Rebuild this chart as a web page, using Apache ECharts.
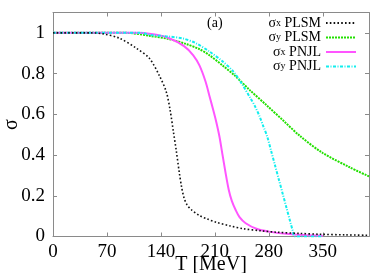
<!DOCTYPE html>
<html>
<head>
<meta charset="utf-8">
<script src="https://cdn.jsdelivr.net/npm/echarts@6/dist/echarts.min.js"></script>
<style>
html,body{margin:0;padding:0;background:#fff;}
#c{width:389px;height:273px;}
</style>
</head>
<body>
<div id="c"></div>
<script>
// ---- data ----
var xTicks = [0, 70, 140, 210, 280, 350];
var yTicks = [0, 0.2, 0.4, 0.6, 0.8, 1];
var yTickLabels = ['0', '0.2', '0.4', '0.6', '0.8', '1'];

var seriesNames = ['sx PLSM', 'sy PLSM', 'sx PNJL', 'sy PNJL'];

var tSxPLSM = [0, 50, 65, 86, 108, 125, 138, 147, 152, 156, 160, 164, 167, 170, 174, 180, 190, 200, 212, 230, 247, 270, 290, 320, 346, 380, 410];
var vSxPLSM = [1, 1, 0.995, 0.974, 0.925, 0.875, 0.79, 0.71, 0.62, 0.52, 0.42, 0.31, 0.24, 0.19, 0.155, 0.13, 0.103, 0.086, 0.07, 0.052, 0.038, 0.028, 0.021, 0.015, 0.011, 0.008, 0.006];

var tSyPLSM = [0, 95, 126, 150, 173, 190, 203, 220, 236, 255, 277, 300, 320, 350, 385, 410];
var vSyPLSM = [1, 1, 0.985, 0.97, 0.945, 0.92, 0.89, 0.84, 0.79, 0.72, 0.645, 0.565, 0.495, 0.41, 0.34, 0.295];

var tSxPNJL = [0, 105, 130, 150, 170, 182, 190, 198, 203, 208, 212, 216, 220, 224, 228, 232, 237, 242, 250, 264, 280, 303, 325, 350];
var vSxPNJL = [1, 1, 0.993, 0.975, 0.935, 0.89, 0.84, 0.76, 0.69, 0.62, 0.56, 0.49, 0.4, 0.31, 0.23, 0.175, 0.13, 0.095, 0.065, 0.038, 0.024, 0.013, 0.007, 0.004];

var tSyPNJL = [0, 115, 126, 150, 169, 185, 203, 220, 234, 245, 256, 262, 268, 273, 278, 283, 288, 293, 298, 303, 308, 311, 314, 350];
var vSyPNJL = [1, 1, 0.99, 0.982, 0.972, 0.95, 0.908, 0.86, 0.81, 0.75, 0.68, 0.64, 0.59, 0.54, 0.49, 0.42, 0.35, 0.28, 0.21, 0.14, 0.07, 0.03, 0.0, 0.0];

function pairs(t, v) { return t.map(function (x, i) { return [x, v[i]]; }); }

var legendRich = {
  'sx PLSM': '{a|σ}{s|x}{a| PLSM}',
  'sy PLSM': '{a|σ}{s|y}{a| PLSM}',
  'sx PNJL': '{a|σ}{s|x}{a| PNJL}',
  'sy PNJL': '{a|σ}{s|y}{a| PNJL}'
};

var serif = '"Liberation Serif", "DejaVu Serif", serif';
var axisGray = '#8a8a8a';

var chart = echarts.init(document.getElementById('c'), null, {renderer: 'canvas'});

function mirrorX(pos, show) {
  return {
    type: 'value', position: pos, min: 0, max: 410,
    axisLine: {show: true, onZero: false, lineStyle: {color: axisGray, width: 1}},
    axisTick: {show: true, inside: true, length: 4, customValues: xTicks, lineStyle: {color: axisGray}},
    axisLabel: show ? {show: true, customValues: xTicks, margin: 6, color: '#000', fontFamily: serif, fontSize: 19} : {show: false},
    splitLine: {show: false}
  };
}
function mirrorY(pos, show) {
  return {
    type: 'value', position: pos, min: 0, max: 1.1,
    axisLine: {show: true, onZero: false, lineStyle: {color: axisGray, width: 1}},
    axisTick: {show: true, inside: true, length: 4, customValues: yTicks, lineStyle: {color: axisGray}},
    axisLabel: show ? {show: true, customValues: yTicks, margin: 8, color: '#000', fontFamily: serif, fontSize: 19,
      formatter: function (v) { var i = yTicks.indexOf(v); return i >= 0 ? yTickLabels[i] : ''; }} : {show: false},
    splitLine: {show: false}
  };
}

var xa = mirrorX('bottom', true);
xa.name = 'T [MeV]';
xa.nameLocation = 'middle';
xa.nameGap = 18;
xa.nameMoveOverlap = false;
xa.nameTextStyle = {color: '#000', fontFamily: serif, fontSize: 20};
var ya = mirrorY('left', true);
ya.name = 'σ';
ya.nameLocation = 'middle';
ya.nameGap = 31;
ya.nameMoveOverlap = false;
ya.nameTextStyle = {color: '#000', fontFamily: serif, fontSize: 20};

var option = {
  backgroundColor: '#fff',
  animation: false,
  grid: {left: 53, right: 20, top: 12.5, bottom: 36.5, containLabel: false, outerBoundsMode: 'none'},
  xAxis: [xa, mirrorX('top', false)],
  yAxis: [ya, mirrorY('right', false)],
  legend: {
    show: true,
    data: seriesNames,
    orient: 'vertical',
    right: 32,
    top: 16,
    padding: 0,
    align: 'right',
    itemWidth: 30,
    itemHeight: 8,
    itemGap: 0.5,
    itemStyle: {opacity: 0, borderWidth: 0},
    formatter: function (n) { return legendRich[n]; },
    textStyle: {
      color: '#000', fontFamily: serif, fontSize: 14,
      rich: {
        a: {fontFamily: serif, fontSize: 14, lineHeight: 10, color: '#000'},
        s: {fontFamily: serif, fontSize: 10, lineHeight: 6, verticalAlign: 'bottom', color: '#000'}
      }
    }
  },
  graphic: [{
    type: 'text', left: 207, top: 16,
    style: {text: '(a)', fontFamily: serif, fontSize: 14, fill: '#000'}
  }],
  series: [
    {
      name: 'sx PLSM', type: 'line', data: pairs(tSxPLSM, vSxPLSM), symbol: 'none', smooth: 0.3,
      lineStyle: {color: '#111', width: 1.6, type: [1.6, 2.2]}, itemStyle: {color: '#111'}, z: 4
    },
    {
      name: 'sy PLSM', type: 'line', data: pairs(tSyPLSM, vSyPLSM), symbol: 'none', smooth: 0.3,
      lineStyle: {color: '#22e000', width: 2, type: [2, 1]}, itemStyle: {color: '#22e000'}, z: 3
    },
    {
      name: 'sx PNJL', type: 'line', data: pairs(tSxPNJL, vSxPNJL), symbol: 'none', smooth: 0.3,
      lineStyle: {color: '#ff55ff', width: 2, type: 'solid'}, itemStyle: {color: '#ff55ff'}, z: 3
    },
    {
      name: 'sy PNJL', type: 'line', data: pairs(tSyPNJL, vSyPNJL), symbol: 'none', smooth: 0.3,
      lineStyle: {color: '#11eeee', width: 2, type: [3, 1.5, 1, 1.5]}, itemStyle: {color: '#11eeee'}, z: 3
    }
  ]
};
chart.setOption(option);
</script>
</body>
</html>
